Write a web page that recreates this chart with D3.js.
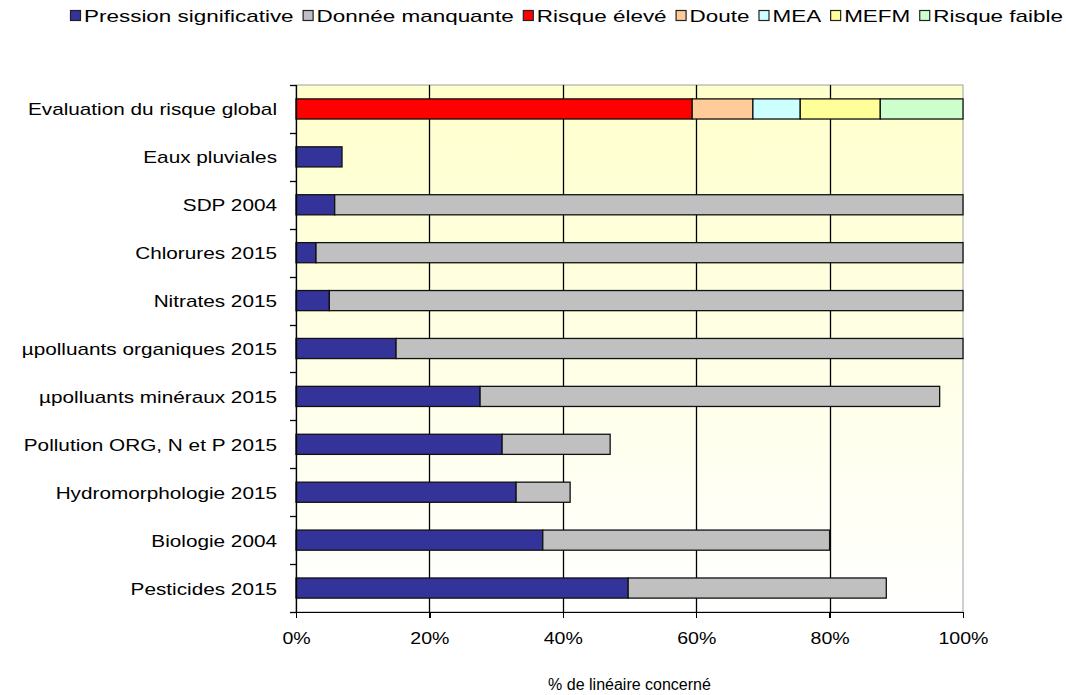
<!DOCTYPE html>
<html lang="fr">
<head>
<meta charset="utf-8">
<script src="https://d3js.org/d3.v7.min.js"></script>
<style>
  body { margin: 0; background: #fff; }
  text { font-family: "Liberation Sans", Arial, sans-serif; fill: #000; }
  .axis path, .axis line { stroke: #000; shape-rendering: crispEdges; }
</style>
</head>
<body>
<svg id="chart" width="1066" height="695"></svg>
<script>
// categories, top to bottom
var categories = ["Evaluation du risque global", "Eaux pluviales", "SDP 2004", "Chlorures 2015",
  "Nitrates 2015", "\u00b5polluants organiques 2015", "\u00b5polluants min\u00e9raux 2015",
  "Pollution ORG, N et P 2015", "Hydromorphologie 2015", "Biologie 2004", "Pesticides 2015"];

var seriesNames = ["Pression significative", "Donn\u00e9e manquante", "Risque \u00e9lev\u00e9",
  "Doute", "MEA", "MEFM", "Risque faible"];
var seriesColors = ["#333399", "#c0c0c0", "#ff0000", "#ffcc99", "#ccffff", "#ffff99", "#ccffcc"];

// % values per series, in category order
var pression  = [0, 6.9, 5.8, 3.0, 5.0, 15.0, 27.6, 30.9, 33.0, 37.0, 49.8];
var manquante = [0, 0, 94.2, 97.0, 95.0, 85.0, 68.9, 16.2, 8.1, 43.0, 38.7];
var eleve     = [59.4, 0, 0, 0, 0, 0, 0, 0, 0, 0, 0];
var doute     = [9.1, 0, 0, 0, 0, 0, 0, 0, 0, 0, 0];
var mea       = [7.1, 0, 0, 0, 0, 0, 0, 0, 0, 0, 0];
var mefm      = [12.0, 0, 0, 0, 0, 0, 0, 0, 0, 0, 0];
var faible    = [12.4, 0, 0, 0, 0, 0, 0, 0, 0, 0, 0];

var xTicks = [0, 20, 40, 60, 80, 100];

var seriesValues = [pression, manquante, eleve, doute, mea, mefm, faible];
var rows = categories.map(function(c, i) {
  var r = {cat: c};
  seriesNames.forEach(function(s, j) { r[s] = seriesValues[j][i]; });
  return r;
});

// widen text a little, the original used a broad bitmap font
function stretch(sel, k) {
  sel.each(function() {
    var w = this.getComputedTextLength();
    d3.select(this).attr("textLength", w * k).attr("lengthAdjust", "spacingAndGlyphs");
  });
}

var svg = d3.select("#chart");
var margin = {top: 85, left: 296, right: 103, bottom: 83};
var W = 1066 - margin.left - margin.right;
var H = 695 - margin.top - margin.bottom;

var defs = svg.append("defs");
var grad = defs.append("linearGradient").attr("id", "bg").attr("x1", 0).attr("y1", 0).attr("x2", 0).attr("y2", 1);
grad.append("stop").attr("offset", "0%").attr("stop-color", "#ffffcc");
grad.append("stop").attr("offset", "100%").attr("stop-color", "#ffffff");

var g = svg.append("g").attr("transform", "translate(" + margin.left + "," + margin.top + ")");

var x = d3.scaleLinear().domain([0, 100]).range([0, W]);
var y = d3.scaleBand().domain(categories).range([0, H]).paddingInner(0.58).paddingOuter(0.29);
var band = d3.scaleBand().domain(categories).range([0, H]);

g.append("rect").attr("width", W).attr("height", H).attr("fill", "url(#bg)")
  .attr("stroke", "#a0a0a0").attr("stroke-width", 1);

// vertical gridlines
g.selectAll(".grid").data(xTicks.slice(1, -1)).enter().append("line")
  .attr("x1", function(d) { return Math.round(x(d)) + 0.5; })
  .attr("x2", function(d) { return Math.round(x(d)) + 0.5; })
  .attr("y1", 0).attr("y2", H)
  .attr("stroke", "#000").attr("stroke-width", 1.3);

var stack = d3.stack().keys(seriesNames)(rows);
var color = d3.scaleOrdinal().domain(seriesNames).range(seriesColors);

g.selectAll(".series").data(stack).enter().append("g")
  .attr("fill", function(d) { return color(d.key); })
  .selectAll("rect").data(function(d) { return d.filter(function(p) { return p[1] - p[0] > 0; }); })
  .enter().append("rect")
    .attr("x", function(d) { return x(d[0]); })
    .attr("width", function(d) { return x(d[1]) - x(d[0]); })
    .attr("y", function(d) { return y(d.data.cat); })
    .attr("height", y.bandwidth())
    .attr("stroke", "#111").attr("stroke-width", 1.3);

// y axis with ticks between categories
g.append("line").attr("x1", 0.5).attr("x2", 0.5).attr("y1", 0).attr("y2", H)
  .attr("stroke", "#000").attr("stroke-width", 1.3);
var bounds = categories.map(function(c) { return band(c); }).concat([H]);
g.selectAll(".ytick").data(bounds).enter().append("line")
  .attr("x1", -6).attr("x2", 0)
  .attr("y1", function(d) { return Math.round(d) + 0.5; })
  .attr("y2", function(d) { return Math.round(d) + 0.5; })
  .attr("stroke", "#000").attr("stroke-width", 1.3);
var ylabs = g.selectAll(".ylab").data(categories).enter().append("text")
  .attr("x", -19)
  .attr("y", function(d) { return band(d) + band.bandwidth() / 2; })
  .attr("dy", "0.38em")
  .attr("text-anchor", "end")
  .style("font-size", "17px")
  .text(function(d) { return d; });
stretch(ylabs, 1.22);

// x axis
var xAxis = g.append("g").attr("class", "axis")
  .attr("transform", "translate(0," + H + ")")
  .call(d3.axisBottom(x).tickValues(xTicks).tickSize(6).tickPadding(14)
    .tickFormat(function(d) { return d + "%"; }));
xAxis.select(".domain").attr("stroke-width", 1.3);
xAxis.selectAll("line").attr("stroke-width", 1.3);
var xlabs = xAxis.selectAll("text").style("font-size", "17px").attr("font-family", null);
stretch(xlabs, 1.15);

svg.append("text").attr("x", margin.left + W / 2).attr("y", 690)
  .attr("text-anchor", "middle").style("font-size", "16px")
  .text("% de lin\u00e9aire concern\u00e9");

// legend, spread from x=70 to the right edge
var legX0 = 70, legX1 = 1063, box = 11, boxGap = 3, itemGap = 9;
var legend = svg.append("g").attr("transform", "translate(" + legX0 + ",16)");
var items = legend.selectAll(".leg").data(seriesNames).enter().append("g");
items.append("rect").attr("x", 0.5).attr("y", -5.5).attr("width", box - 1).attr("height", box - 1)
  .attr("fill", function(d) { return color(d); }).attr("stroke", "#222").attr("stroke-width", 1.2);
var ltexts = items.append("text").attr("x", box + boxGap).attr("dy", "0.38em")
  .style("font-size", "17px").text(function(d) { return d; });
var widths = [];
ltexts.each(function() { widths.push(this.getComputedTextLength()); });
var fixed = seriesNames.length * (box + boxGap) + (seriesNames.length - 1) * itemGap;
var k = (legX1 - legX0 - fixed) / d3.sum(widths);
var lx = 0;
items.each(function(d, i) {
  d3.select(this).attr("transform", "translate(" + lx + ",0)");
  d3.select(this).select("text").attr("textLength", widths[i] * k).attr("lengthAdjust", "spacingAndGlyphs");
  lx += box + boxGap + widths[i] * k + itemGap;
});
</script>
</body>
</html>
